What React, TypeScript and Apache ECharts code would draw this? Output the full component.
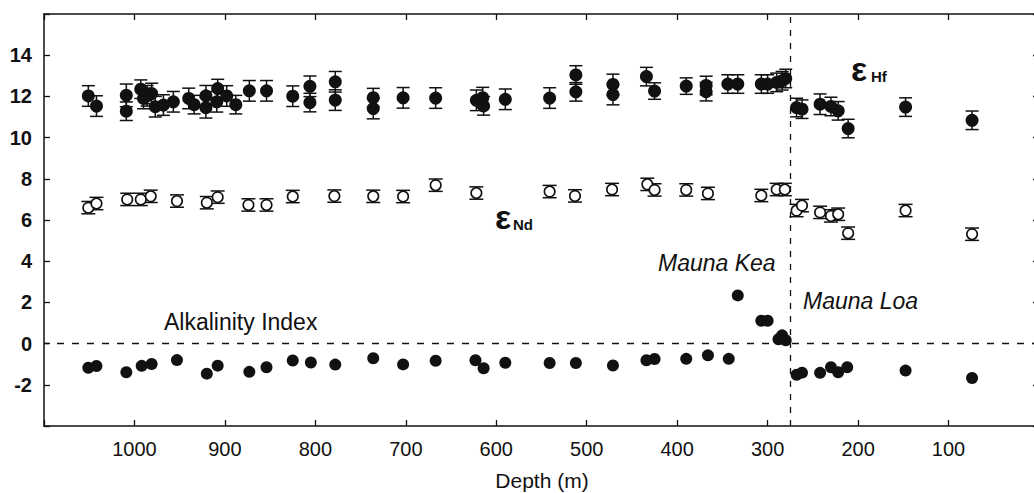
import React, { useEffect, useRef } from "react";
import * as echarts from "echarts";

// ---- Data ----
const hfDepth = [
  1051, 1042, 1009, 1009, 993, 990, 986, 981, 977, 968, 957, 940, 934, 921, 921, 909, 908, 898, 888, 873,
  854, 825, 806, 806, 778, 778, 736, 736, 703, 667, 622, 615, 614, 590, 541, 512, 512, 471, 471, 434,
  425, 390, 368, 368, 344, 333, 307, 300, 290, 284, 280, 268, 262, 242, 230, 222, 211, 147.5, 74,
];
const hfValue = [
  12.02, 11.53, 12.05, 11.28, 12.35, 11.9, 12.03, 12.14, 11.5, 11.58, 11.74, 11.9, 11.6, 12.03, 11.45, 11.74, 12.38, 12.02, 11.6, 12.27,
  12.27, 12.01, 12.49, 11.7, 12.71, 11.82, 11.94, 11.41, 11.93, 11.92, 11.81, 11.94, 11.54, 11.86, 11.92, 13.04, 12.22, 12.58, 12.09, 12.96,
  12.26, 12.5, 12.53, 12.23, 12.6, 12.6, 12.6, 12.6, 12.68, 12.76, 12.87, 11.46, 11.38, 11.62, 11.51, 11.3, 10.44, 11.48, 10.84,
];
const hfError = [
  0.5, 0.5, 0.55, 0.45, 0.45, 0.5, 0.5, 0.5, 0.5, 0.5, 0.5, 0.5, 0.45, 0.5, 0.5, 0.5, 0.45, 0.5, 0.45, 0.5,
  0.5, 0.5, 0.5, 0.45, 0.5, 0.5, 0.45, 0.5, 0.5, 0.5, 0.5, 0.5, 0.45, 0.5, 0.5, 0.45, 0.45, 0.5, 0.5, 0.45,
  0.4, 0.4, 0.45, 0.45, 0.45, 0.45, 0.45, 0.45, 0.45, 0.45, 0.45, 0.45, 0.45, 0.5, 0.45, 0.45, 0.45, 0.45, 0.45,
];

const ndDepth = [
  1051, 1042, 1008, 993, 982, 953, 920, 908, 874, 854, 825, 779, 736, 703, 667, 622, 541, 513, 472, 433,
  425, 390, 366, 307, 290, 281, 268, 262, 242, 230, 222, 211, 147.5, 74,
];
const ndValue = [
  6.6, 6.8, 7.0, 7.0, 7.15, 6.92, 6.84, 7.11, 6.73, 6.73, 7.14, 7.16, 7.15, 7.14, 7.69, 7.31, 7.38, 7.17, 7.48, 7.73,
  7.46, 7.46, 7.29, 7.19, 7.48, 7.48, 6.46, 6.7, 6.37, 6.2, 6.28, 5.36, 6.46, 5.31,
];
const ndError = [
  0.3, 0.3, 0.3, 0.3, 0.3, 0.3, 0.3, 0.3, 0.3, 0.3, 0.3, 0.3, 0.3, 0.3, 0.3, 0.3, 0.3, 0.3, 0.3, 0.3,
  0.3, 0.3, 0.3, 0.3, 0.3, 0.3, 0.3, 0.3, 0.3, 0.3, 0.3, 0.3, 0.3, 0.3,
];

const alkDepth = [
  1051, 1042, 1009, 992, 981, 953, 920, 908, 873, 854, 825, 805, 778, 736, 703, 667, 623, 614, 590, 541,
  512, 471, 434, 425, 390, 366, 343, 333, 307, 300, 288, 284, 280, 268, 262, 242, 230, 222, 212, 147.5, 74,
];
const alkValue = [
  -1.17, -1.09, -1.39, -1.08, -0.99, -0.8, -1.46, -1.07, -1.37, -1.15, -0.82, -0.92, -1.02, -0.71, -1.01, -0.83, -0.81, -1.2, -0.93, -0.94,
  -0.94, -1.06, -0.81, -0.75, -0.74, -0.57, -0.74, 2.34, 1.11, 1.11, 0.21, 0.4, 0.16, -1.51, -1.41, -1.42, -1.15, -1.39, -1.15, -1.31, -1.67,
];

const xTickLabels = [100, 200, 300, 400, 500, 600, 700, 800, 900, 1000];
const yTickLabels = [-2, 0, 2, 4, 6, 8, 10, 12, 14];
const boundaryDepth = 275;
const alkalineThreshold = 0;

const FONT = "Liberation Sans, Arial, sans-serif";
const INK = "#111";

function errorBarSeries(depths: number[], values: number[], errors: number[], halfCap: number) {
  return {
    type: "custom",
    coordinateSystem: "cartesian2d",
    silent: true,
    z: 2,
    encode: { x: 0, y: [1, 2] },
    data: depths.map((d, i) => [d, values[i] - errors[i], values[i] + errors[i]]),
    renderItem: (_params: any, api: any) => {
      const x = api.value(0);
      const lo = api.coord([x, api.value(1)]);
      const hi = api.coord([x, api.value(2)]);
      const style = { stroke: INK, lineWidth: 1.5 };
      return {
        type: "group",
        children: [
          { type: "line", shape: { x1: lo[0], y1: lo[1], x2: hi[0], y2: hi[1] }, style },
          { type: "line", shape: { x1: lo[0] - halfCap, y1: lo[1], x2: lo[0] + halfCap, y2: lo[1] }, style },
          { type: "line", shape: { x1: hi[0] - halfCap, y1: hi[1], x2: hi[0] + halfCap, y2: hi[1] }, style },
        ],
      };
    },
  };
}

const axisLineStyle = { color: INK, width: 1.5 };
const tickStyle = { show: true, inside: true, length: 6, lineStyle: { color: INK, width: 1.3 } };

function buildOption() {
  return {
    animation: false,
    backgroundColor: "#fff",
    textStyle: { fontFamily: FONT },
    grid: { left: 44, top: 14, width: 995, height: 412, containLabel: false },
    xAxis: [
      {
        type: "value",
        min: 0,
        max: 1100,
        interval: 100,
        inverse: true,
        position: "bottom",
        axisLine: { show: true, onZero: false, lineStyle: axisLineStyle },
        axisTick: tickStyle,
        axisLabel: {
          color: INK,
          fontSize: 20,
          fontFamily: FONT,
          margin: 13,
          formatter: (v: number) => (xTickLabels.includes(v) ? String(v) : ""),
        },
        splitLine: { show: false },
      },
      {
        type: "value",
        min: 0,
        max: 1100,
        interval: 100,
        inverse: true,
        position: "top",
        axisLine: { show: true, onZero: false, lineStyle: axisLineStyle },
        axisTick: tickStyle,
        axisLabel: { show: false },
        splitLine: { show: false },
      },
    ],
    yAxis: [
      {
        type: "value",
        min: -4,
        max: 16,
        interval: 2,
        position: "left",
        axisLine: { show: true, onZero: false, lineStyle: axisLineStyle },
        axisTick: tickStyle,
        axisLabel: {
          color: INK,
          fontSize: 20,
          fontWeight: "bold",
          fontFamily: FONT,
          margin: 12,
          formatter: (v: number) => (yTickLabels.includes(v) ? String(v) : ""),
        },
        splitLine: { show: false },
      },
      {
        type: "value",
        min: -4,
        max: 16,
        interval: 2,
        position: "right",
        axisLine: { show: true, onZero: false, lineStyle: axisLineStyle },
        axisTick: tickStyle,
        axisLabel: { show: false },
        splitLine: { show: false },
      },
    ],
    series: [
      errorBarSeries(hfDepth, hfValue, hfError, 6.5),
      errorBarSeries(ndDepth, ndValue, ndError, 7),
      {
        name: "εHf",
        type: "scatter",
        z: 3,
        symbol: "circle",
        symbolSize: 13,
        itemStyle: { color: INK, opacity: 1 },
        data: hfDepth.map((d, i) => [d, hfValue[i]]),
      },
      {
        name: "εNd",
        type: "scatter",
        z: 3,
        symbol: "circle",
        symbolSize: 10.5,
        itemStyle: { color: "#fff", borderColor: INK, borderWidth: 1.6, opacity: 1 },
        data: ndDepth.map((d, i) => [d, ndValue[i]]),
      },
      {
        name: "Alkalinity Index",
        type: "scatter",
        z: 3,
        symbol: "circle",
        symbolSize: 12,
        itemStyle: { color: INK, opacity: 1 },
        data: alkDepth.map((d, i) => [d, alkValue[i]]),
        markLine: {
          silent: true,
          symbol: ["none", "none"],
          label: { show: false },
          data: [
            { xAxis: boundaryDepth, lineStyle: { type: [6, 7], color: INK, width: 1.3 } },
            { yAxis: alkalineThreshold, lineStyle: { type: [7, 8], color: INK, width: 1.3 } },
          ],
        },
      },
    ],
    graphic: [
      {
        type: "text",
        x: 164,
        y: 322,
        style: { text: "Alkalinity Index", fontSize: 23, fontFamily: FONT, fill: INK, textAlign: "left", textVerticalAlign: "middle" },
      },
      {
        type: "text",
        x: 658,
        y: 263,
        style: { text: "Mauna Kea", fontSize: 23, fontStyle: "italic", fontFamily: FONT, fill: INK, textAlign: "left", textVerticalAlign: "middle" },
      },
      {
        type: "text",
        x: 803,
        y: 300.5,
        style: { text: "Mauna Loa", fontSize: 23, fontStyle: "italic", fontFamily: FONT, fill: INK, textAlign: "left", textVerticalAlign: "middle" },
      },
      {
        type: "text",
        x: 542,
        y: 480,
        style: { text: "Depth (m)", fontSize: 21, fontFamily: FONT, fill: INK, textAlign: "center", textVerticalAlign: "middle" },
      },
      {
        type: "text",
        x: 495,
        y: 217,
        style: { text: "ε", fontSize: 34, fontWeight: "bold", fontFamily: FONT, fill: INK, textAlign: "left", textVerticalAlign: "middle" },
      },
      {
        type: "text",
        x: 513,
        y: 224.5,
        style: { text: "Nd", fontSize: 15, fontWeight: "bold", fontFamily: FONT, fill: INK, textAlign: "left", textVerticalAlign: "middle" },
      },
      {
        type: "text",
        x: 851,
        y: 69,
        style: { text: "ε", fontSize: 34, fontWeight: "bold", fontFamily: FONT, fill: INK, textAlign: "left", textVerticalAlign: "middle" },
      },
      {
        type: "text",
        x: 871,
        y: 76.5,
        style: { text: "Hf", fontSize: 15, fontWeight: "bold", fontFamily: FONT, fill: INK, textAlign: "left", textVerticalAlign: "middle" },
      },
    ],
  };
}

export default function App() {
  const ref = useRef<HTMLDivElement>(null);
  useEffect(() => {
    if (!ref.current) return;
    const chart = echarts.init(ref.current, null, { renderer: "svg" });
    chart.setOption(buildOption() as any);
    return () => chart.dispose();
  }, []);
  return (
    <div style={{ position: "absolute", left: 0, top: 0, width: 1034, height: 493, background: "#fff", overflow: "hidden" }}>
      <div ref={ref} style={{ width: 1050, height: 493 }} />
    </div>
  );
}
